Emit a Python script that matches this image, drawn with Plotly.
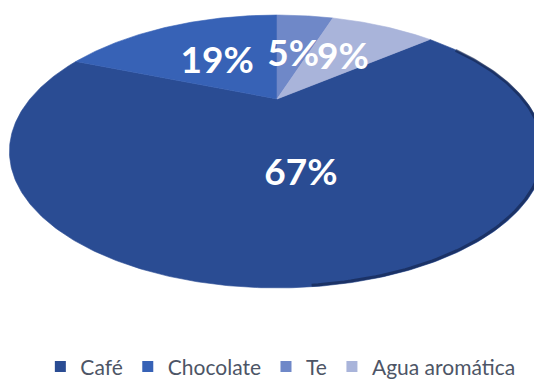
import numpy as np
import plotly.graph_objects as go

# Beverage preference shares (%)
categories = ["Café", "Chocolate", "Te", "Agua aromática"]
values = [67, 19, 5, 9]
colors = ["#2A4C93", "#3762B6", "#6F88C8", "#A9B4DA"]

# Tilted-disc projection (screen pixels): far edge compressed, near edge enlarged
CX, CY = 277.0, 99.0      # pie centre on screen
R = 247.0                 # horizontal radius at the centre line
A, C = -78.2, 0.3846      # vertical perspective terms
ROTATION = 50.4           # start angle of first slice, clockwise from top
LABEL_R = [0.5, 0.5, 0.5, 0.56]   # radial position of each percentage label
LABEL_DY = 6              # small downward nudge for text baseline


def project(r, ang_deg):
    t = np.radians(ang_deg)
    u, v = r * np.sin(t), r * np.cos(t)
    d = 1 + C * v
    return CX + R * u / d, (A * v + CY) / d


fig = go.Figure()
total = sum(values)
start = ROTATION
label_x, label_y = [], []
for name, val, col, lr in zip(categories, values, colors, LABEL_R):
    sweep = 360.0 * val / total
    angs = np.linspace(start, start + sweep, max(int(sweep * 2), 8))
    xs, ys = project(1.0, angs)
    px = np.concatenate([[CX], xs, [CX]])
    py = np.concatenate([[CY], ys, [CY]])
    fig.add_trace(go.Scatter(
        x=px, y=py, mode="lines", fill="toself", fillcolor=col,
        line=dict(width=0.6, color=col), hoverinfo="skip", showlegend=False,
    ))
    lx, ly = project(lr, start + sweep / 2)
    label_x.append(float(lx))
    label_y.append(float(ly) + LABEL_DY)
    start += sweep

# bevel shading along the near rim of the disc
rim = np.linspace(60, 175, 120)
rx, ry = project(0.995, rim)
fig.add_trace(go.Scatter(
    x=rx, y=ry, mode="lines", line=dict(width=3, color="rgba(15,30,65,0.55)"),
    hoverinfo="skip", showlegend=False,
))

# percentage labels
fig.add_trace(go.Scatter(
    x=label_x, y=label_y, mode="text",
    text=[f"{round(100 * v / total)}%" for v in values],
    textfont=dict(family="Lato", size=37, color="white", weight="bold"),
    hoverinfo="skip", showlegend=False,
))

# legend entries
for name, col in zip(categories, colors):
    fig.add_trace(go.Scatter(
        x=[None], y=[None], mode="markers", name=name,
        marker=dict(symbol="square", size=11, color=col),
    ))

fig.update_layout(
    width=534, height=379,
    margin=dict(l=0, r=0, t=0, b=0, autoexpand=False),
    paper_bgcolor="white", plot_bgcolor="white",
    xaxis=dict(range=[0, 534], visible=False, fixedrange=True),
    yaxis=dict(range=[379, 0], visible=False, fixedrange=True),
    legend=dict(
        orientation="h", x=0.525, xanchor="center", y=0.032, yanchor="middle",
        font=dict(family="Lato", size=21, color="#4D5566"),
        itemwidth=30, tracegroupgap=0,
    ),
    showlegend=True,
)

fig.write_html("out.html")
